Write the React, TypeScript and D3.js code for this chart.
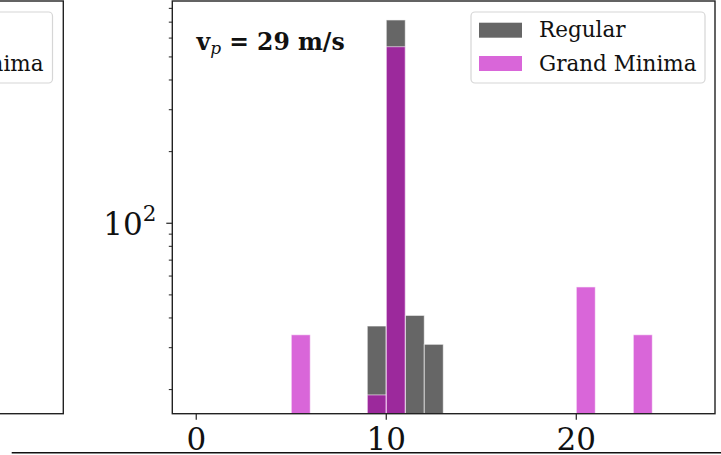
import React from "react";
import * as d3 from "d3";

const regularBins = [9, 10, 11, 12];
const regularCounts = [37, 715, 41, 31];
const gmBins = [5, 9, 10, 20, 23];
const gmCounts = [34, 19, 552, 54, 34];
const xTicks = [0, 10, 20];
const yMajor = [100];
const yMinor = [20, 30, 40, 50, 60, 70, 80, 90, 200, 300, 400, 500, 600, 700, 800];
const legendLabels = ["Regular", "Grand Minima"];
const title = "29 m/s";

const W = 721, H = 455;
const L = 172.3, R = 715, T = 1, B = 413.7;
const FONT = "'DejaVu Serif', serif";

export default function App() {
  const x = d3.scaleLinear().domain([-1.26, 27.3]).range([L, R]);
  const y = d3.scaleLog().domain([15.84, 859]).range([B, T]);
  const regColor = "#000000";
  const gmColor = "#bf00bf";
  const bar = (b: number, c: number, color: string, key: string) => {
    const x0 = x(b), x1 = x(b + 1);
    const yt = y(c);
    return (
      <rect key={key} x={x0} y={yt} width={x1 - x0} height={B - yt}
        fill={color} fillOpacity={0.6} stroke="#fff" strokeOpacity={0.6} strokeWidth={1} />
    );
  };
  const legX = 471, legY = 12, legW = 234, legH = 71;
  return (
    <svg width={W} height={H} style={{ position: "absolute", left: 0, top: 0, background: "#fff" }}
      fontFamily={FONT}>
      <rect x={0} y={0} width={W} height={H} fill="#fff" />
      {/* left partial panel */}
      <rect x={-300} y={T} width={63.3 + 300} height={B - T} fill="none" stroke="#222" strokeWidth={1.4} />
      <rect x={52.5 - legW} y={legY} width={legW} height={legH} rx={4} fill="#fff" stroke="#d6d6d6" strokeWidth={1.2} />
      <text x={43.5} y={70.5} fontSize={21.5} textAnchor="end" fill="#111">{legendLabels[1]}</text>

      {/* right panel */}
      <defs>
        <clipPath id="clipR"><rect x={L} y={T} width={R - L} height={B - T} /></clipPath>
      </defs>
      <g clipPath="url(#clipR)">
        {regularBins.map((b, i) => bar(b, regularCounts[i], regColor, "r" + i))}
        {gmBins.map((b, i) => bar(b, gmCounts[i], gmColor, "g" + i))}
      </g>
      <rect x={L} y={T} width={R - L} height={B - T} fill="none" stroke="#222" strokeWidth={1.4} />
      {xTicks.map((t) => (
        <g key={"xt" + t}>
          <line x1={x(t)} x2={x(t)} y1={B} y2={B + 6} stroke="#222" strokeWidth={1.2} />
          <text x={x(t)} y={449.5} fontSize={31} textAnchor="middle" fill="#111">{t}</text>
        </g>
      ))}
      {yMajor.map((t) => (
        <g key={"ym" + t}>
          <line x1={L - 6} x2={L} y1={y(t)} y2={y(t)} stroke="#222" strokeWidth={1.2} />
          <text x={156.5} y={y(t) + 12} fontSize={31} textAnchor="end" fill="#111">
            10<tspan fontSize={21.5} dy={-14}>2</tspan>
          </text>
        </g>
      ))}
      {yMinor.map((t) => (
        <line key={"yn" + t} x1={L - 3.5} x2={L} y1={y(t)} y2={y(t)} stroke="#222" strokeWidth={1} />
      ))}
      <text x={196.5} y={50} fontSize={23.5} fontWeight="bold" fill="#111">
        v<tspan fontStyle="italic" fontWeight="normal" fontSize={17} dy={4}>p</tspan>
        <tspan dy={-4}>{" = " + title}</tspan>
      </text>
      {/* legend */}
      <rect x={legX} y={legY} width={legW} height={legH} rx={4} fill="#fff" fillOpacity={0.8} stroke="#d6d6d6" strokeWidth={1.2} />
      <rect x={479} y={22.7} width={43} height={15} fill={regColor} fillOpacity={0.6} />
      <rect x={479} y={56} width={43} height={15} fill={gmColor} fillOpacity={0.6} />
      <text x={539} y={37} fontSize={21.5} fill="#111">{legendLabels[0]}</text>
      <text x={539} y={70.5} fontSize={21.5} fill="#111">{legendLabels[1]}</text>
      {/* top of lower panel */}
      <line x1={11.7} x2={W + 5} y1={452.8} y2={452.8} stroke="#111" strokeWidth={1.6} />
    </svg>
  );
}
